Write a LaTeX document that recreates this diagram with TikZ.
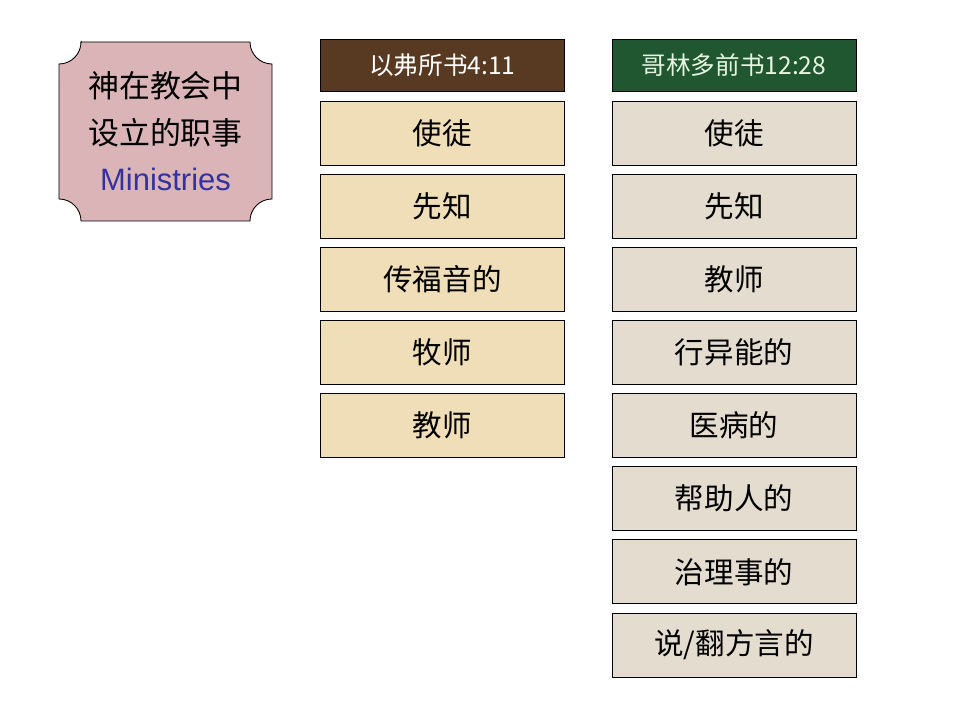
\documentclass[tikz,border=0pt]{standalone}
\usepackage{fontspec}
\setmainfont{Noto Sans CJK SC}
\newfontfamily\latinfont{Liberation Sans}
\usetikzlibrary{positioning}

\definecolor{plaquepink}{RGB}{219,180,183}
\definecolor{ephbrown}{RGB}{88,58,34}
\definecolor{corgreen}{RGB}{32,86,48}
\definecolor{ephtan}{RGB}{239,222,184}
\definecolor{corbeige}{RGB}{227,220,207}
\definecolor{minblue}{RGB}{50,50,160}

\begin{document}
\begin{tikzpicture}[
    x=0.025cm, y=0.025cm,
    every node/.style={font=\fontsize{21}{25}\selectfont},
    head/.style={rectangle, draw, line width=0.6pt, minimum width=6.1cm,
                 minimum height=1.32cm, inner sep=0pt,
                 font=\fontsize{17.5}{20}\selectfont},
    item/.style={rectangle, draw, line width=0.6pt, minimum width=6.1cm,
                 minimum height=1.6cm, inner sep=0pt},
    ephitem/.style={item, fill=ephtan},
    coritem/.style={item, fill=corbeige},
  ]
  \useasboundingbox[fill=white] (0,0) rectangle (960,720);

  % plaque on the left
  \draw[fill=plaquepink, line width=0.6pt]
    (81,678) -- (250,678) arc[start angle=180, end angle=270, radius=0.55cm]
    -- (272,521) arc[start angle=90, end angle=180, radius=0.55cm]
    -- (81,499) arc[start angle=0, end angle=90, radius=0.55cm]
    -- (59,656) arc[start angle=270, end angle=360, radius=0.55cm] -- cycle;
  \node[align=center, font=\fontsize{22}{33}\selectfont] (plaque) at (165.5,588.5)
    {神在教会中\\设立的职事\\{\latinfont\color{minblue}Ministries}};

  % Ephesians column
  \node[head, fill=ephbrown, text=white] (ephhead) at (442.5,654.5) {以弗所书4:11};
  \node[ephitem, below=0.207cm of ephhead] (eph1) {使徒};
  \node[ephitem, below=0.207cm of eph1] (eph2) {先知};
  \node[ephitem, below=0.207cm of eph2] (eph3) {传福音的};
  \node[ephitem, below=0.207cm of eph3] (eph4) {牧师};
  \node[ephitem, below=0.207cm of eph4] (eph5) {教师};

  % Corinthians column
  \node[head, fill=corgreen, text={rgb,255:red,230;green,245;blue,225}] (corhead) at (734,654.5) {哥林多前书12:28};
  \node[coritem, below=0.207cm of corhead] (cor1) {使徒};
  \node[coritem, below=0.207cm of cor1] (cor2) {先知};
  \node[coritem, below=0.207cm of cor2] (cor3) {教师};
  \node[coritem, below=0.207cm of cor3] (cor4) {行异能的};
  \node[coritem, below=0.207cm of cor4] (cor5) {医病的};
  \node[coritem, below=0.207cm of cor5] (cor6) {帮助人的};
  \node[coritem, below=0.207cm of cor6] (cor7) {治理事的};
  \node[coritem, below=0.207cm of cor7] (cor8) {说/翻方言的};
\end{tikzpicture}
\end{document}
